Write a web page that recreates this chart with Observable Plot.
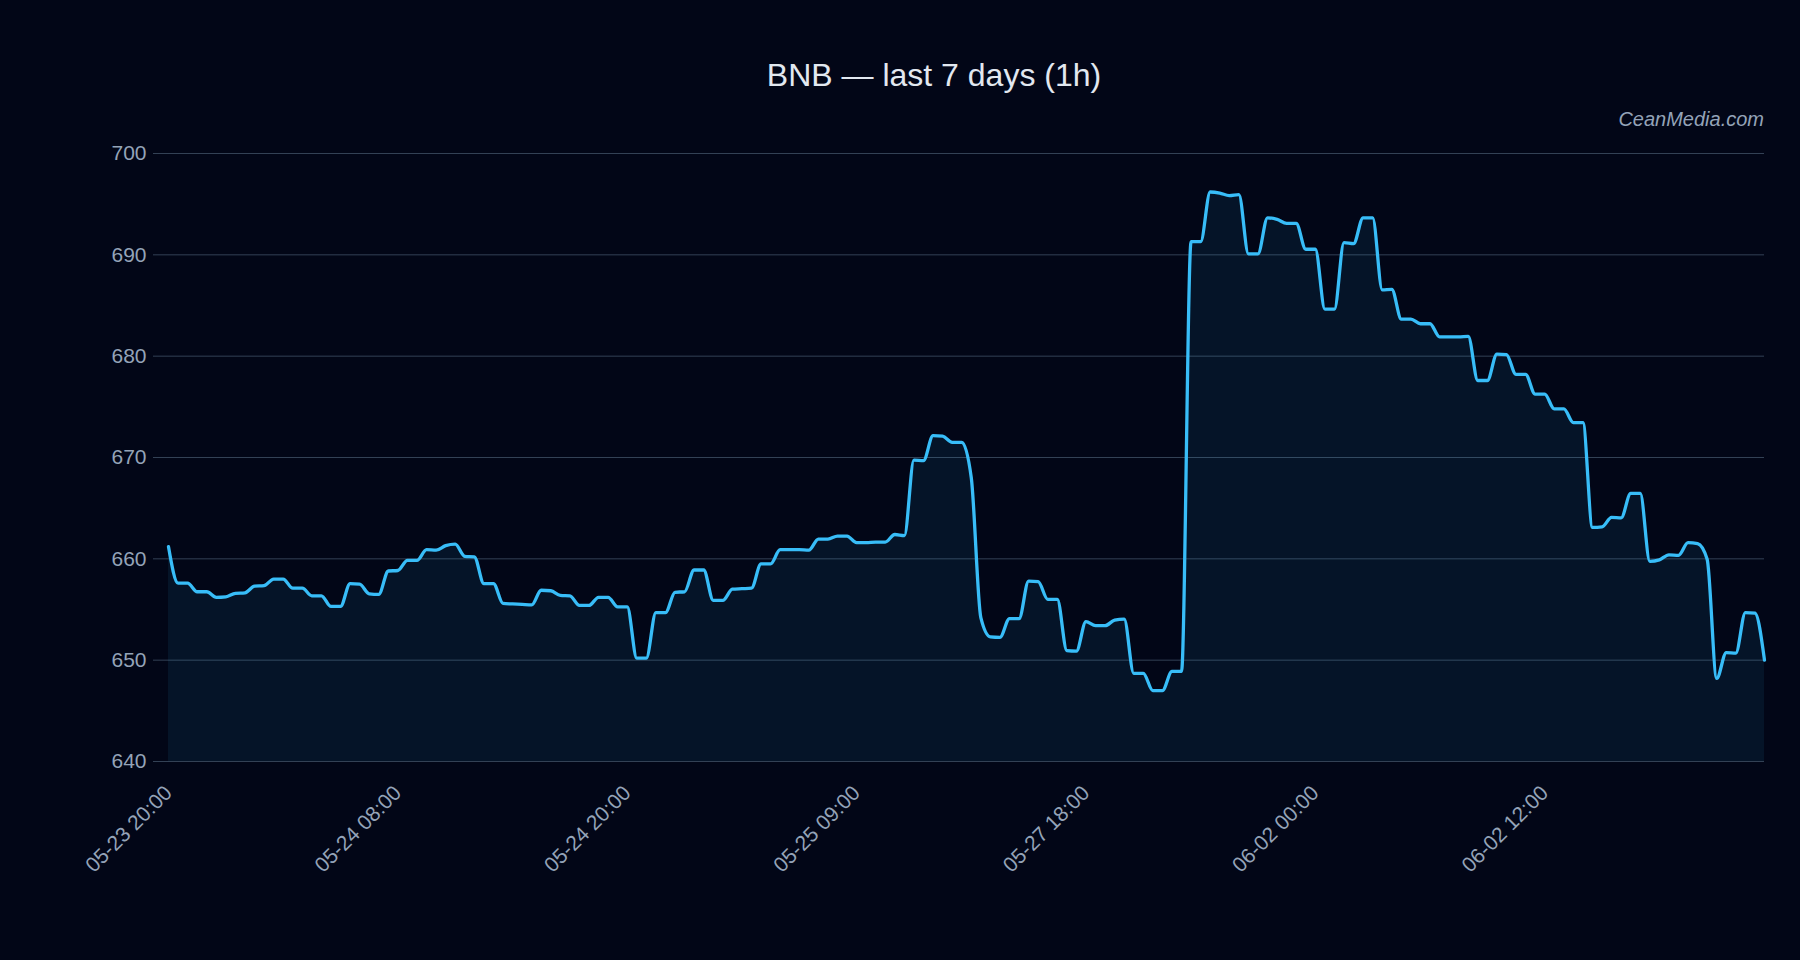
<!DOCTYPE html>
<html>
<head>
<meta charset="utf-8">
<script src="https://cdn.jsdelivr.net/npm/d3@7"></script>
<script src="https://cdn.jsdelivr.net/npm/@observablehq/plot@0.6"></script>
<style>
  html, body { margin: 0; padding: 0; background: #020617; }
  #wrap { position: relative; width: 1800px; height: 960px; background: #020617; overflow: hidden;
          font-family: "Liberation Sans", Arial, sans-serif; }
  #title { position: absolute; left: 634px; width: 600px; top: 59px; text-align: center;
           font-size: 32px; line-height: 32px; color: #e2e8f0; white-space: nowrap; }
  #credit { position: absolute; right: 36px; top: 109px; font-size: 20px; line-height: 20px;
            font-style: italic; color: #94a3b8; white-space: nowrap; }
  #chart { position: absolute; left: 0; top: 0; }
</style>
</head>
<body>
<div id="wrap">
  <div id="chart"></div>
  <div id="title">BNB — last 7 days (1h)</div>
  <div id="credit">CeanMedia.com</div>
</div>
<script>
// Hourly closing prices (USD), 168 points
const prices = [
  661.2,
  657.6, 657.6, 656.75, 656.75, 656.2, 656.25, 656.6, 656.65, 657.3, 657.35,
  658.0, 658.0, 657.1, 657.1, 656.35, 656.35, 655.3, 655.3, 657.55, 657.5,
  656.55, 656.5, 658.8, 658.85, 659.85, 659.85, 660.9, 660.85, 661.3, 661.45,
  660.25, 660.2, 657.55, 657.55, 655.6, 655.55, 655.5, 655.45, 656.9, 656.85,
  656.4, 656.35, 655.4, 655.4, 656.2, 656.2, 655.25, 655.25, 650.2, 650.2,
  654.7, 654.7, 656.7, 656.75, 658.9, 658.9, 655.9, 655.9, 657.0, 657.05,
  657.1, 659.5, 659.5, 660.9, 660.9, 660.9, 660.85, 661.95, 661.95, 662.25,
  662.25, 661.6, 661.6, 661.65, 661.65, 662.4, 662.3, 669.75, 669.7, 672.15,
  672.1, 671.5, 671.5, 668.0, 654.2, 652.3, 652.25, 654.1, 654.1, 657.8,
  657.75, 656.0, 656.0, 650.95, 650.9, 653.8, 653.4, 653.4, 653.95, 654.05,
  648.7, 648.7, 647.0, 647.0, 648.9, 648.9, 691.3, 691.3, 696.2, 696.1,
  695.85, 695.95, 690.1, 690.1, 693.65, 693.5, 693.1, 693.1, 690.55, 690.55,
  684.65, 684.65, 691.2, 691.1, 693.65, 693.65, 686.55, 686.6, 683.65, 683.65,
  683.2, 683.2, 681.9, 681.9, 681.9, 681.95, 677.6, 677.6, 680.2, 680.15,
  678.2, 678.2, 676.25, 676.25, 674.8, 674.8, 673.45, 673.45, 663.1, 663.15,
  664.1, 664.05, 666.45, 666.45, 659.75, 659.9, 660.4, 660.35, 661.6, 661.5,
  659.95, 648.2, 650.75, 650.7, 654.7, 654.65, 650.0
];

// x-axis tick positions (point index) and their labels
const xTickIndex = [0, 24, 48, 72, 96, 120, 144];
const xTickLabels = ["05-23 20:00", "05-24 08:00", "05-24 20:00", "05-25 09:00",
                     "05-27 18:00", "06-02 00:00", "06-02 12:00"];

// y-axis ticks
const yTicks = [640, 650, 660, 670, 680, 690, 700];

const data = prices.map((v, i) => ({ i, v }));
const yMin = yTicks[0];
const yMax = yTicks[yTicks.length - 1];

const chart = Plot.plot({
  width: 1800,
  height: 960,
  marginLeft: 168,
  marginRight: 36,
  marginTop: 153,
  marginBottom: 199,
  style: {
    background: "transparent",
    color: "#94a3b8",
    fontFamily: "'Liberation Sans', Arial, sans-serif",
    fontSize: "21px"
  },
  x: { domain: [0, prices.length - 1], axis: null, label: null },
  y: { domain: [yMin, yMax], axis: null, label: null },
  marks: [
    Plot.gridY(yTicks, { stroke: "#334155", strokeOpacity: 1, strokeWidth: 1 }),
    Plot.areaY(data, { x: "i", y1: yMin, y2: "v", curve: "monotone-x", fill: "#38bdf8", fillOpacity: 0.08 }),
    Plot.lineY(data, { x: "i", y: "v", curve: "monotone-x", stroke: "#38bdf8", strokeWidth: 3.3,
                       strokeLinejoin: "round", strokeLinecap: "round" }),
    Plot.axisY(yTicks, { label: null, tickSize: 15, tickPadding: 7, stroke: "#334155", fill: "#94a3b8",
                         tickFormat: d => String(d) }),
    Plot.axisX(xTickIndex, {
      label: null,
      tickFormat: d => xTickLabels[xTickIndex.indexOf(d)],
      tickRotate: -45, tickSize: 0, tickPadding: 28, fill: "#94a3b8"
    })
  ]
});
document.getElementById("chart").appendChild(chart);
</script>
</body>
</html>
